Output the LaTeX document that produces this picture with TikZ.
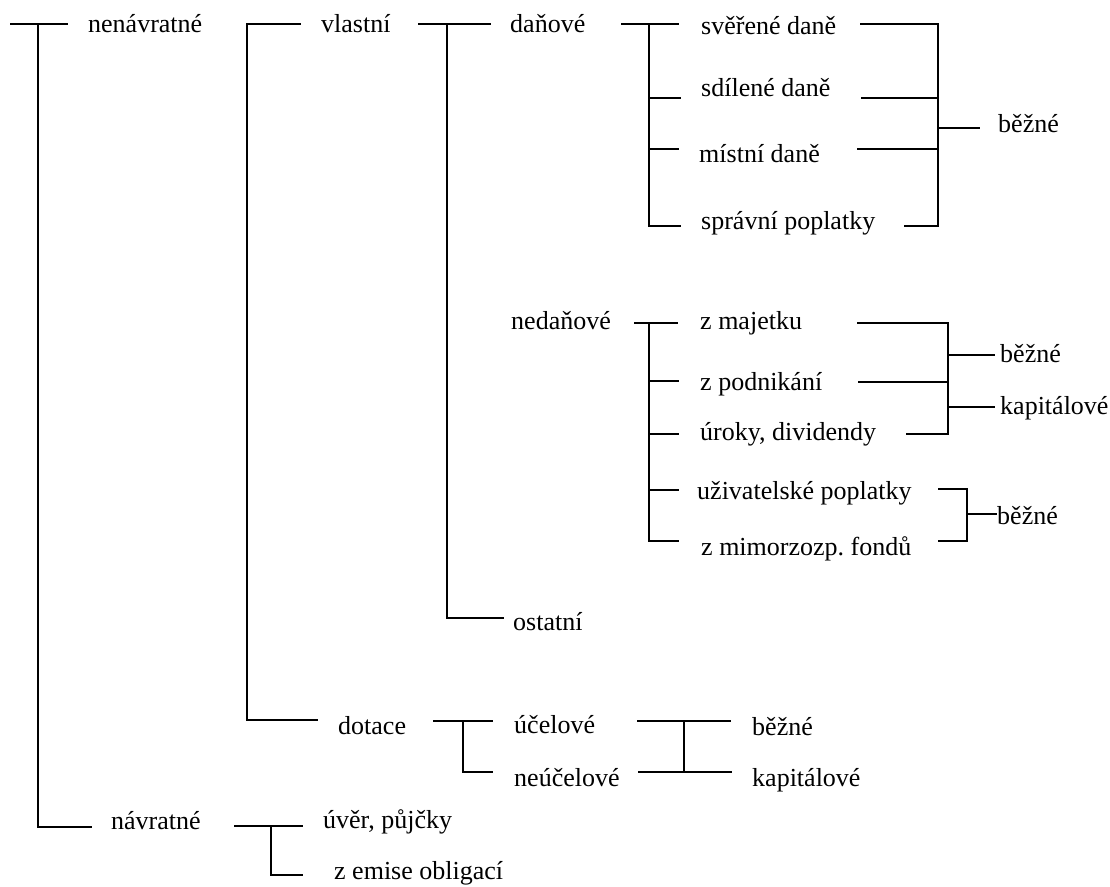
\documentclass[tikz,border=0pt]{standalone}
\usepackage{fontspec}
\setmainfont{Liberation Serif}
\frenchspacing
\begin{document}
\begin{tikzpicture}[x=1pt,y=-1pt,
  lbl/.style={anchor=base west, inner sep=0pt, font=\fontsize{26}{30}\selectfont},
  ln/.style={line width=1.6pt, line cap=rect}]
\useasboundingbox (0,0) rectangle (1110,886);
% labels (y = baseline)
\node[lbl] (n1) at (88,32) {nenávratné};
\node[lbl] (n2) at (321,32) {vlastní};
\node[lbl] (n3) at (510,32) {daňové};
\node[lbl] (t1) at (701,34) {svěřené daně};
\node[lbl] (t2) at (701,96) {sdílené daně};
\node[lbl] (t3) at (699,162) {místní daně};
\node[lbl] (t4) at (701,229) {správní poplatky};
\node[lbl] (b1) at (998,132) {běžné};
\node[lbl] (nd) at (511,329) {nedaňové};
\node[lbl] (m1) at (700,329) {z majetku};
\node[lbl] (m2) at (700,390) {z podnikání};
\node[lbl] (m3) at (700,440) {úroky, dividendy};
\node[lbl] (m4) at (697,499) {uživatelské poplatky};
\node[lbl] (m5) at (701,555) {z mimorzozp. fondů};
\node[lbl] (b2) at (1000,362) {běžné};
\node[lbl] (k2) at (1000,414) {kapitálové};
\node[lbl] (b3) at (997,524) {běžné};
\node[lbl] (os) at (513,630) {ostatní};
\node[lbl] (dt) at (338,734) {dotace};
\node[lbl] (u1) at (514,733) {účelové};
\node[lbl] (u2) at (514,786) {neúčelové};
\node[lbl] (b4) at (752,735) {běžné};
\node[lbl] (k4) at (752,786) {kapitálové};
\node[lbl] (nv) at (111,829) {návratné};
\node[lbl] (v1) at (323,828) {úvěr, půjčky};
\node[lbl] (v2) at (334,879) {z emise obligací};
% root bracket
\coordinate (r0) at (10.5,24); \coordinate (r1) at (67,24);
\coordinate (r2) at (38,24); \coordinate (r3) at (38,827); \coordinate (r4) at (91,827);
\draw[ln] (r0) -- (r1);
\draw[ln] (r2) -- (r3) -- (r4);
% vlastni / dotace
\coordinate (a0) at (300,24); \coordinate (a1) at (247,24);
\coordinate (a2) at (247,720); \coordinate (a3) at (317,720);
\draw[ln] (a0) -- (a1) -- (a2) -- (a3);
% danove / ostatni
\coordinate (c0) at (419,24); \coordinate (c1) at (490,24);
\coordinate (c2) at (447,24); \coordinate (c3) at (447,618); \coordinate (c4) at (503,618);
\draw[ln] (c0) -- (c1);
\draw[ln] (c2) -- (c3) -- (c4);
% danove bracket
\coordinate (d0) at (622,24); \coordinate (d1) at (678,24);
\coordinate (d2) at (649,24); \coordinate (d3) at (649,226); \coordinate (d4) at (680,226);
\coordinate (d5) at (649,98); \coordinate (d6) at (680,98);
\coordinate (d7) at (649,149); \coordinate (d8) at (678,149);
\draw[ln] (d0) -- (d1);
\draw[ln] (d2) -- (d3) -- (d4);
\draw[ln] (d5) -- (d6);
\draw[ln] (d7) -- (d8);
% danove right bracket
\coordinate (e0) at (861,24); \coordinate (e1) at (938,24);
\coordinate (e2) at (938,226); \coordinate (e3) at (905,226);
\coordinate (e4) at (862,98); \coordinate (e5) at (938,98);
\coordinate (e6) at (858,149); \coordinate (e7) at (938,149);
\coordinate (e8) at (938,128); \coordinate (e9) at (979,128);
\draw[ln] (e0) -- (e1) -- (e2) -- (e3);
\draw[ln] (e4) -- (e5);
\draw[ln] (e6) -- (e7);
\draw[ln] (e8) -- (e9);
% nedanove bracket
\coordinate (f0) at (635,323); \coordinate (f1) at (677,323);
\coordinate (f2) at (649,323); \coordinate (f3) at (649,541); \coordinate (f4) at (678,541);
\coordinate (f5) at (649,381); \coordinate (f6) at (678,381);
\coordinate (f7) at (649,434); \coordinate (f8) at (678,434);
\coordinate (f9) at (649,490); \coordinate (f10) at (678,490);
\draw[ln] (f0) -- (f1);
\draw[ln] (f2) -- (f3) -- (f4);
\draw[ln] (f5) -- (f6);
\draw[ln] (f7) -- (f8);
\draw[ln] (f9) -- (f10);
% nedanove right bracket 1
\coordinate (g0) at (858,323); \coordinate (g1) at (948,323);
\coordinate (g2) at (948,434); \coordinate (g3) at (907,434);
\coordinate (g4) at (859,382); \coordinate (g5) at (948,382);
\coordinate (g6) at (948,355); \coordinate (g7) at (994,355);
\coordinate (g8) at (948,407); \coordinate (g9) at (994,407);
\draw[ln] (g0) -- (g1) -- (g2) -- (g3);
\draw[ln] (g4) -- (g5);
\draw[ln] (g6) -- (g7);
\draw[ln] (g8) -- (g9);
% nedanove right bracket 2
\coordinate (h0) at (939,489); \coordinate (h1) at (967,489);
\coordinate (h2) at (967,541); \coordinate (h3) at (939,541);
\coordinate (h4) at (967,514); \coordinate (h5) at (996,514);
\draw[ln] (h0) -- (h1) -- (h2) -- (h3);
\draw[ln] (h4) -- (h5);
% dotace bracket
\coordinate (i0) at (434,721); \coordinate (i1) at (492,721);
\coordinate (i2) at (463,721); \coordinate (i3) at (463,772); \coordinate (i4) at (492,772);
\draw[ln] (i0) -- (i1);
\draw[ln] (i2) -- (i3) -- (i4);
% dotace right
\coordinate (j0) at (638,721); \coordinate (j1) at (730,721);
\coordinate (j2) at (639,772); \coordinate (j3) at (731,772);
\coordinate (j4) at (684,721); \coordinate (j5) at (684,772);
\draw[ln] (j0) -- (j1);
\draw[ln] (j2) -- (j3);
\draw[ln] (j4) -- (j5);
% navratne bracket
\coordinate (k0) at (235,826); \coordinate (k1) at (302,826);
\coordinate (k2c) at (271,826); \coordinate (k3) at (271,875); \coordinate (k4c) at (302,875);
\draw[ln] (k0) -- (k1);
\draw[ln] (k2c) -- (k3) -- (k4c);
\end{tikzpicture}
\end{document}
